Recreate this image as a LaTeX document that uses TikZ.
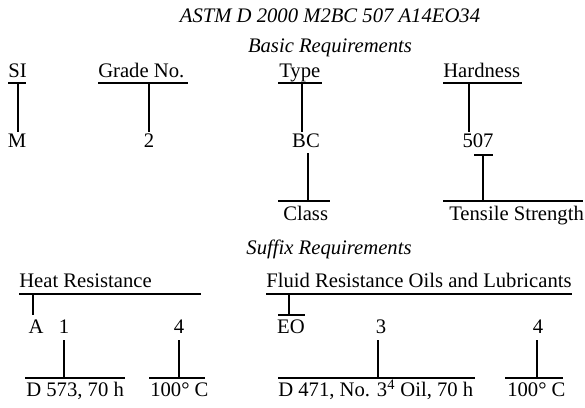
\documentclass[tikz,border=0pt]{standalone}
\usepackage{fontspec}
\setmainfont{Liberation Serif}
\begin{document}
\begin{tikzpicture}[x=0.75pt,y=-0.75pt,
  txt/.style={inner sep=0pt,font=\fontsize{15.5}{18}\selectfont},
  lbl/.style={txt,anchor=base west},
  val/.style={txt,anchor=base},
  ttl/.style={txt,anchor=base,font=\fontsize{15.5}{18}\selectfont\itshape},
  ln/.style={line width=1pt}]
\useasboundingbox[fill=white] (0,0) rectangle (585,407);
% titles
\node[ttl] (title) at (330,22) {ASTM D 2000 M2BC 507 A14EO34};
\node[ttl] (basic) at (330,52) {Basic Requirements};
\node[ttl] (suffix) at (329,254) {Suffix Requirements};
% basic heads
\node[lbl] (si) at (8,77) {SI};
\node[lbl] (grade) at (98,77) {Grade No.};
\node[lbl] (type) at (279,77) {Type};
\node[lbl] (hard) at (443,77) {Hardness};
\draw[ln] (8,83) -- (26,83);
\draw[ln] (98,83) -- (188,83);
\draw[ln] (278,83) -- (322,83);
\draw[ln] (443,83) -- (522,83);
% basic values
\node[val] (m) at (17,147) {M};
\node[val] (two) at (149,147) {2};
\node[val] (bc) at (306,147) {BC};
\node[val] (h507) at (478,147) {507};
\draw[ln] (18,83) -- (18,132);
\draw[ln] (149,83) -- (149,132);
\draw[ln] (302,83) -- (302,132);
\draw[ln] (469,83) -- (469,132);
% class / tensile
\draw[ln] (308,153) -- (308,201);
\draw[ln] (278,201) -- (330,201);
\node[lbl] (class) at (283,220) {Class};
\draw[ln] (474,155) -- (493,155);
\draw[ln] (483,155) -- (483,201);
\draw[ln] (443,201) -- (583,201);
\node[lbl] (tens) at (449,220) {Tensile Strength};
% heat resistance
\node[lbl] (heat) at (19,287) {Heat Resistance};
\draw[ln] (19,294) -- (201,294);
\draw[ln] (33,294) -- (33,315);
\node[val] (a) at (36,333) {A};
\node[val] (one) at (64,333) {1};
\node[val] (four1) at (179,333) {4};
\draw[ln] (64,340) -- (64,378);
\draw[ln] (25,378) -- (125,378);
\node[lbl] (d573) at (26,396) {D 573, 70 h};
\draw[ln] (179,340) -- (179,378);
\draw[ln] (149,378) -- (205,378);
\node[lbl] (c1) at (150,396) {100° C};
% fluid resistance
\node[lbl] (fluid) at (266,287) {Fluid Resistance Oils and Lubricants};
\draw[ln] (266,294) -- (572,294);
\draw[ln] (289,294) -- (289,315);
\draw[ln] (278,315) -- (305,315);
\node[val] (eo) at (291,333) {EO};
\node[val] (three) at (381,333) {3};
\node[val] (four2) at (538,333) {4};
\draw[ln] (378,340) -- (378,378);
\draw[ln] (278,378) -- (475,378);
\node[lbl] (d471) at (278,396) {D 471, No. 3\textsuperscript{4} Oil, 70 h};
\draw[ln] (537,340) -- (537,378);
\draw[ln] (505,378) -- (563,378);
\node[lbl] (c2) at (507,396) {100° C};
\end{tikzpicture}
\end{document}
